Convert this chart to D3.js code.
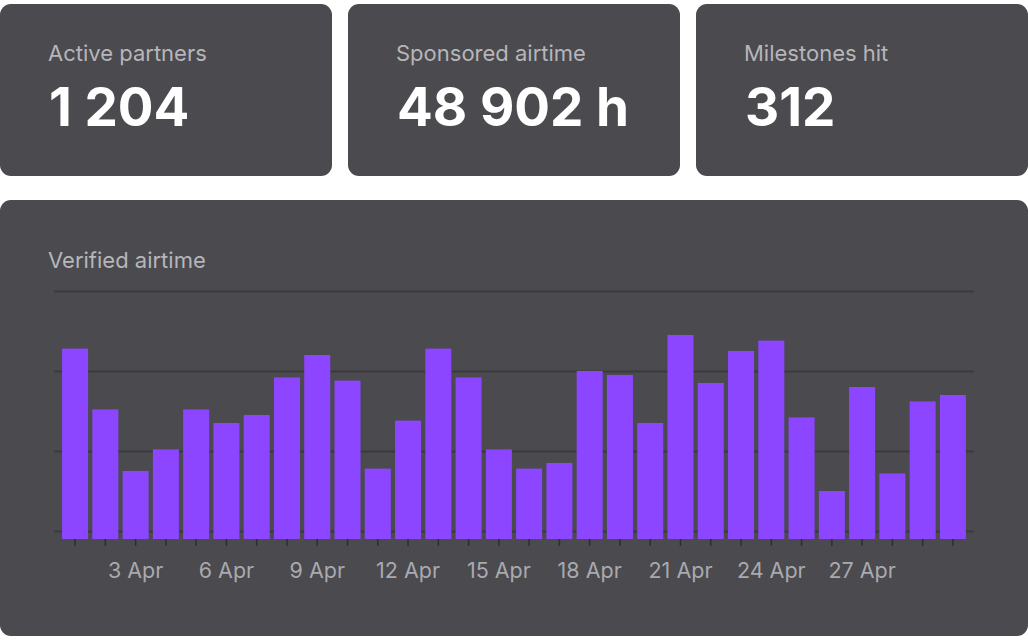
<!DOCTYPE html>
<html lang="en">
<head>
  <meta charset="UTF-8">
  <title>Verified airtime</title>
  <script src="https://d3js.org/d3.v7.min.js"></script>
  <style>
    body {
      margin: 0;
      background: #fff;
      font-family: Inter, "Open Sans", sans-serif;
    }

    .card {
      fill: #4a4a4f;
    }

    .label {
      fill: #b6b6ba;
      font-size: 22px;
    }

    .value {
      fill: #fff;
      font-size: 53px;
      font-weight: 700;
    }

    .grid line {
      stroke: #3a3a3f;
      stroke-width: 2;
    }

    .x-axis line {
      stroke: #2e2e32;
      stroke-width: 1.5;
    }

    .x-axis text {
      fill: #a9a9ae;
      font-size: 21.5px;
      font-family: Inter, sans-serif;
    }

    .bar {
      fill: #8c46ff;
    }
  </style>
</head>
<body>
  <svg width="1028" height="640"></svg>

  <script>
    // stat cards
    const statLabels = ["Active partners", "Sponsored airtime", "Milestones hit"];
    const statValues = ["1 204", "48 902 h", "312"];

    // daily verified airtime, 1-30 April
    const days = [1, 2, 3, 4, 5, 6, 7, 8, 9, 10, 11, 12, 13, 14, 15,
                  16, 17, 18, 19, 20, 21, 22, 23, 24, 25, 26, 27, 28, 29, 30];
    const airtime = [1140, 760, 375, 510, 760, 675, 725, 960, 1100, 940,
                     390, 690, 1140, 960, 510, 390, 425, 1000, 975, 675,
                     1225, 925, 1125, 1190, 710, 250, 900, 360, 810, 850];
    const tickDays = [3, 6, 9, 12, 15, 18, 21, 24, 27];
    const gridValues = [0, 500, 1000, 1500];
    const month = "Apr";

    const svg = d3.select("svg");

    // top row of cards
    const cardW = 332, cardGap = 16;
    const cards = svg.selectAll("g.stat")
      .data(statLabels)
      .enter().append("g")
        .attr("class", "stat")
        .attr("transform", (d, i) => `translate(${i * (cardW + cardGap)},4)`);

    cards.append("rect")
      .attr("class", "card")
      .attr("width", cardW)
      .attr("height", 172)
      .attr("rx", 11);

    cards.append("text")
      .attr("class", "label")
      .attr("x", 48)
      .attr("y", 57)
      .text(d => d);

    cards.append("text")
      .attr("class", "value")
      .attr("x", 49)
      .attr("y", 122)
      .text((d, i) => statValues[i]);

    // chart card
    svg.append("rect")
      .attr("class", "card")
      .attr("y", 200)
      .attr("width", 1028)
      .attr("height", 436)
      .attr("rx", 11);

    svg.append("text")
      .attr("class", "label")
      .attr("x", 48)
      .attr("y", 268)
      .text("Verified airtime");

    const x = d3.scaleBand()
      .domain(days)
      .range([56, 972])
      .paddingInner(0.14)
      .paddingOuter(0.2);

    // bars sit on the floor of the scale, a little below the 0 gridline
    const y = d3.scaleLinear()
      .domain([-50, 1500])
      .range([539, 291]);

    svg.append("g")
      .attr("class", "grid")
      .attr("transform", "translate(54,0)")
      .call(d3.axisLeft(y).tickValues(gridValues).tickSize(-920).tickFormat(""))
      .call(g => g.select(".domain").remove());

    svg.append("g")
      .selectAll("rect")
      .data(airtime)
      .enter().append("rect")
        .attr("class", "bar")
        .attr("x", (d, i) => x(days[i]))
        .attr("y", d => y(d))
        .attr("width", x.bandwidth())
        .attr("height", d => y.range()[0] - y(d));

    svg.append("g")
      .attr("class", "x-axis")
      .attr("transform", `translate(0,${y.range()[0]})`)
      .call(d3.axisBottom(x)
        .tickSize(7)
        .tickFormat(d => tickDays.includes(d) ? `${d} ${month}` : ""))
      .call(g => g.select(".domain").remove())
      .call(g => g.selectAll("text").attr("y", 39).attr("dy", 0));
  </script>
</body>
</html>
